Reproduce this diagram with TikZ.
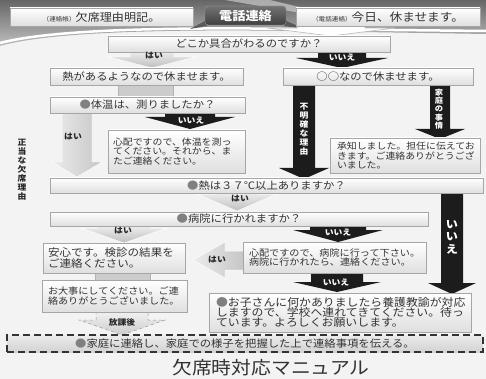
\documentclass[tikz,border=0pt]{standalone}
\usepackage{fontspec}
\setmainfont{Noto Sans CJK JP}
\newfontfamily\jp{Noto Sans CJK JP}[FakeStretch=1.1]
\usetikzlibrary{shadows}
\definecolor{bgc}{HTML}{F3F3F3}
\definecolor{txt}{HTML}{333333}
\definecolor{blkc}{HTML}{1C1C1C}
\newcommand\fsz[2]{\fontsize{#1}{#2}\selectfont}
\newcommand\gb{\textcolor{gray}{●}}
% #1 style, #2 cx, #3 shaft half, #4 head half, #5 y top, #6 y head base, #7 y tip
\newcommand{\dnarrow}[7]{%
  \path[#1] ({#2-#3},#5) -- ({#2+#3},#5) -- ({#2+#3},#6) -- ({#2+#4},#6) -- (#2,#7) -- ({#2-#4},#6) -- ({#2-#3},#6) -- cycle;}
\begin{document}
\begin{tikzpicture}[x=1pt,y=-1pt,
  box/.style={draw=gray!70, line width=0.5pt, top color=white, bottom color=gray!25, inner sep=0pt, text=txt,
    drop shadow={shadow xshift=1pt, shadow yshift=-1pt, opacity=0.25}},
  single/.style={box, font=\jp\fsz{10.3}{12}},
  multi/.style={box, align=left},
  blk/.style={fill=blkc},
  lt/.style={top color=gray!12, bottom color=gray!50, draw=white, line width=0.5pt},
  ltv/.style={left color=gray!15, right color=gray!45, draw=white, line width=0.5pt},
  chev/.style={fill=white, draw=gray!55, line width=0.6pt},
  dsh/.style={top color=gray!10, bottom color=gray!40, draw=gray!80, dashed, line width=0.5pt},
  conn/.style={fill=gray!40, draw=gray!60, line width=0.5pt},
  lbl/.style={font=\jp\bfseries\fsz{8}{9}, text=black!85, inner sep=0pt},
  lblw/.style={font=\jp\bfseries\fsz{8}{9}, text=white, inner sep=0pt},
  vtxt/.style={align=center, inner sep=0pt, font=\jp\bfseries\fsz{8}{9}}]
\useasboundingbox (0,0) rectangle (486,379);
\fill[bgc] (0,0) rectangle (486,379);
% top band
\path[top color=black!60, bottom color=black!25] (0,0) -- (486,0) -- (486,34) -- (300,31) .. controls (160,29) and (50,32) .. (0,46) -- cycle;
\fill[white, opacity=0.45] (225,0) -- (270,0) -- (345,18) -- (330,18) -- cycle;
\draw[white, line width=2.5pt] (0,43) .. controls (50,30) and (160,27) .. (300,29) -- (486,31);
% ribbon folds
\fill[black!65] (207,20) -- (190,29) -- (207,26) -- cycle;
\fill[black!65] (284,20) -- (305,29) -- (284,26) -- cycle;

% arrows
\dnarrow{chev}{331}{34}{64}{24}{28}{36}
\dnarrow{lt}{152}{22}{43}{50}{57}{68}
\dnarrow{blk}{342}{24}{46}{50}{58}{68}
\path[conn] (118,84) rectangle (173,98);
\dnarrow{ltv}{77}{15}{25}{112}{162}{177}
\dnarrow{blk}{190}{25}{45}{112}{117}{129}
\dnarrow{blk}{304}{11}{25}{84}{168}{179}
\dnarrow{blk}{440}{10}{25}{84}{129}{139}
\dnarrow{lt}{237}{20}{40}{192}{194}{211}
\dnarrow{lt}{124}{27}{43}{225}{228}{243}
\dnarrow{blk}{338}{28}{45}{225}{230}{242}
\path[ltv] (244,251) -- (225,251) -- (225,242) -- (193,260) -- (225,278) -- (225,270) -- (244,270) -- cycle;
\dnarrow{blk}{337}{26}{44}{272}{282}{292}
\dnarrow{blk}{452}{11}{24}{192}{283}{294}
\path[conn] (95,272) rectangle (150,281);
\dnarrow{dsh}{122}{26}{43}{311}{320}{335}

% header boxes
\node[box, minimum width=183pt, minimum height=18pt, font=\jp\fsz{11}{12}] (renraku) at (101.5,17)
  {{\fsz{6}{7}（連絡帳）}欠席理由明記。};
\node[draw=black!40, rounded corners=3pt, top color=black!55, bottom color=black!75, minimum width=81pt, minimum height=19pt,
  inner sep=0pt, text=white, font=\jp\bfseries\fsz{12}{13}] (denwa) at (245.5,15.5) {電話連絡};
\node[box, minimum width=184pt, minimum height=18pt, font=\jp\fsz{11.5}{12}] (kyou) at (388,17)
  {{\fsz{6}{7}（電話連絡）}今日、休ませます。};

% main boxes
\node[single, minimum width=282pt, minimum height=16pt] (dokoka) at (249,44) {どこか具合がわるのですか？};
\node[single, minimum width=193pt, minimum height=17pt] (netsu) at (146.5,76.5) {熱があるようなので休ませます。};
\node[single, minimum width=190pt, minimum height=17pt] (maru) at (378,76.5) {○○なので休ませます。};
\node[single, minimum width=195pt, minimum height=16pt] (taion) at (147.5,105) {\gb 体温は、測りましたか？};
\node[multi, inner xsep=5pt, text width=127pt, minimum height=43pt, font=\jp\fsz{9}{9.3}] (shinpai1) at (176.5,151.5)
  {心配ですので、体温を測っ\\てください。それから、ま\\たご連絡ください。};
\node[multi, inner xsep=7pt, text width=136pt, minimum height=35pt, font=\jp\fsz{9}{9.5}] (shochi) at (405,155.5)
  {承知しました。担任に伝えてお\\きます。ご連絡ありがとうござ\\いました。};
\node[single, minimum width=433pt, minimum height=15pt] (netsu37) at (266.5,185.5) {\gb 熱は３７℃以上ありますか？};
\node[single, minimum width=378pt, minimum height=14pt] (byouin) at (239,219) {\gb 病院に行かれますか？};
\node[multi, inner xsep=5pt, text width=132pt, minimum height=30pt, font=\jp\fsz{10.5}{10.5}] (anshin) at (114,258)
  {安心です。検診の結果を\\ご連絡ください。};
\node[multi, inner xsep=6pt, text width=171pt, minimum height=31pt, font=\jp\fsz{9.2}{9.3}] (shinpai2) at (334.5,257.5)
  {心配ですので、病院に行って下さい。\\病院に行かれたら、連絡ください。};
\node[multi, inner xsep=6pt, text width=133pt, minimum height=32pt, font=\jp\fsz{9.2}{10}] (odaiji) at (114.5,296)
  {お大事にしてください。ご連\\絡ありがとうございました。};
\node[multi, inner xsep=7pt, text width=248pt, minimum height=39pt, font=\jp\fsz{10.8}{10.2}] (okosan) at (340,312.5)
  {\gb お子さんに何かありましたら養護教諭が対応\\しますので、学校へ連れてきてください。待っ\\ています。よろしくお願いします。};
\node[draw=black!80, line width=1.3pt, dash pattern=on 7pt off 4pt, top color=gray!15, bottom color=gray!35,
  minimum width=476pt, minimum height=17pt, inner sep=0pt, text=txt, font=\jp\fsz{10.3}{12}] (katei) at (245,343.5)
  {\gb 家庭に連絡し、家庭での様子を把握した上で連絡事項を伝える。};

% arrow labels
\node[lbl] (l1) at (154,56) {はい};
\node[lblw] (l2) at (342,57) {いいえ};
\node[lbl] (l3) at (73,137) {はい};
\node[lblw] (l4) at (191,120) {いいえ};
\node[lbl] (l5) at (240,199) {はい};
\node[lbl] (l6) at (123,231) {はい};
\node[lblw] (l7) at (338,232) {いいえ};
\node[lbl] (l8) at (217,260) {はい};
\node[lblw] (l9) at (336,282) {いいえ};
\node[lbl] (l10) at (122,322) {放課後};
\node[vtxt, text=white] (v1) at (304,129) {不\\明\\確\\な\\理\\由};
\node[vtxt, text=white, font=\jp\bfseries\fsz{7.5}{8.3}] (v2) at (439,109) {家\\庭\\の\\事\\情};
\node[vtxt, text=white, font=\jp\bfseries\fsz{11}{12.5}] (v3) at (452,237) {い\\い\\え};
\node[vtxt, text=black!85] (v4) at (22,170) {正\\当\\な\\欠\\席\\理\\由};

% title
\node[inner sep=0pt, text=black!80, font=\jp\fsz{18}{20}] (title) at (271,368) {欠席時対応マニュアル};
\end{tikzpicture}
\end{document}
